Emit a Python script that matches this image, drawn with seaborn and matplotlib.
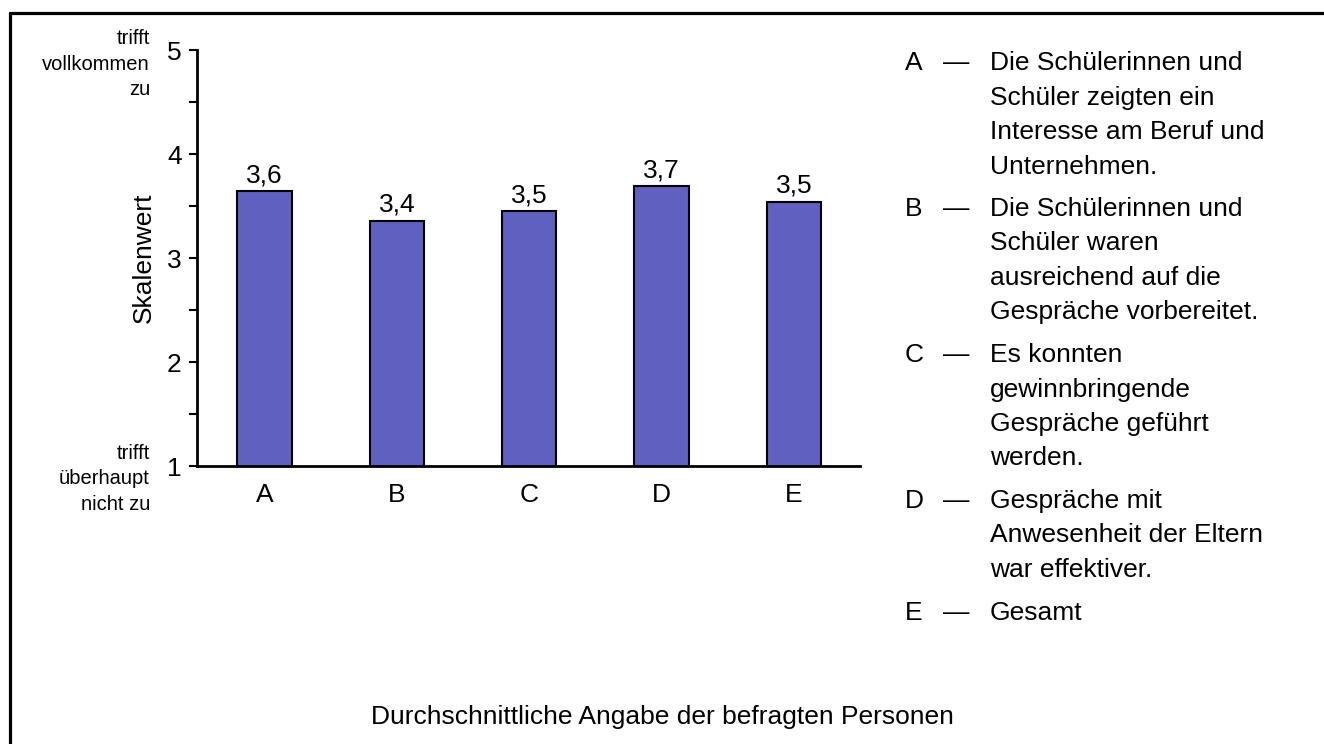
import matplotlib
matplotlib.use("Agg")
import matplotlib.pyplot as plt
import matplotlib.lines as mlines
from matplotlib.ticker import MultipleLocator
import seaborn as sns
import pandas as pd

# Daten
categories = ["A", "B", "C", "D", "E"]
values = [3.64, 3.36, 3.45, 3.69, 3.54]
value_labels = ["3,6", "3,4", "3,5", "3,7", "3,5"]
descriptions = [
    ["Die Schülerinnen und", "Schüler zeigten ein", "Interesse am Beruf und", "Unternehmen."],
    ["Die Schülerinnen und", "Schüler waren", "ausreichend auf die", "Gespräche vorbereitet."],
    ["Es konnten", "gewinnbringende", "Gespräche geführt", "werden."],
    ["Gespräche mit", "Anwesenheit der Eltern", "war effektiver."],
    ["Gesamt"],
]
top_label = "trifft\nvollkommen\nzu"
bottom_label = "trifft\nüberhaupt\nnicht zu"
caption = "Durchschnittliche Angabe der befragten Personen"

sns.set_theme(style="ticks")
plt.rcParams["font.family"] = ["Liberation Sans", "DejaVu Sans"]
plt.rcParams.update({"text.color": "black", "axes.labelcolor": "black",
                     "xtick.color": "black", "ytick.color": "black"})

W, H = 1324, 744
fig = plt.figure(figsize=(W / 100, H / 100), dpi=100)
ax = fig.add_axes([197 / W, 1 - 466 / H, (860 - 197) / W, (466 - 50) / H])

df = pd.DataFrame({"kat": categories, "wert": values})
sns.barplot(data=df, x="kat", y="wert", color="#6060C0", saturation=1,
            edgecolor="black", linewidth=1.5, width=0.41, ax=ax)
ax.bar_label(ax.containers[0], labels=value_labels, padding=3, fontsize=19)

ax.set_ylim(1, 5)
ax.set_xlim(-0.51, 4.5)
ax.yaxis.set_major_locator(MultipleLocator(1))
ax.yaxis.set_minor_locator(MultipleLocator(0.5))
ax.tick_params(axis="y", which="both", length=6, width=1.5, color="black",
               labelsize=19, pad=5, direction="out")
ax.tick_params(axis="x", length=0, labelsize=19, pad=12)
ax.set_xlabel("")
ax.set_ylabel("Skalenwert", fontsize=19, labelpad=8)
for s in ["top", "right"]:
    ax.spines[s].set_visible(False)
for s in ["left", "bottom"]:
    ax.spines[s].set_linewidth(2)
    ax.spines[s].set_color("black")

# Skalenbeschriftung links
fig.text(150 / W, 1 - 64 / H, top_label, ha="right", va="center",
         fontsize=14.5, linespacing=1.45)
fig.text(150 / W, 1 - 479 / H, bottom_label, ha="right", va="center",
         fontsize=14.5, linespacing=1.45)

# Legende rechts
y = 63
for cat, lines in zip(categories, descriptions):
    fig.text(905 / W, 1 - y / H, cat, ha="left", va="center", fontsize=19)
    fig.text(943 / W, 1 - y / H, "—", ha="left", va="center", fontsize=19)
    for i, line in enumerate(lines):
        fig.text(990 / W, 1 - (y + i * 34.5) / H, line, ha="left",
                 va="center", fontsize=19)
    y += (len(lines) - 1) * 34.5 + 42.5

fig.text(0.5, 1 - 717 / H, caption, ha="center", va="center", fontsize=19)

# Rahmen
fig.add_artist(mlines.Line2D([9.5 / W, 1], [1 - 12.5 / H] * 2, color="black", lw=2.3))
fig.add_artist(mlines.Line2D([9.5 / W] * 2, [0, 1 - 12.5 / H], color="black", lw=2.3))

fig.savefig("out.png", dpi=100)
